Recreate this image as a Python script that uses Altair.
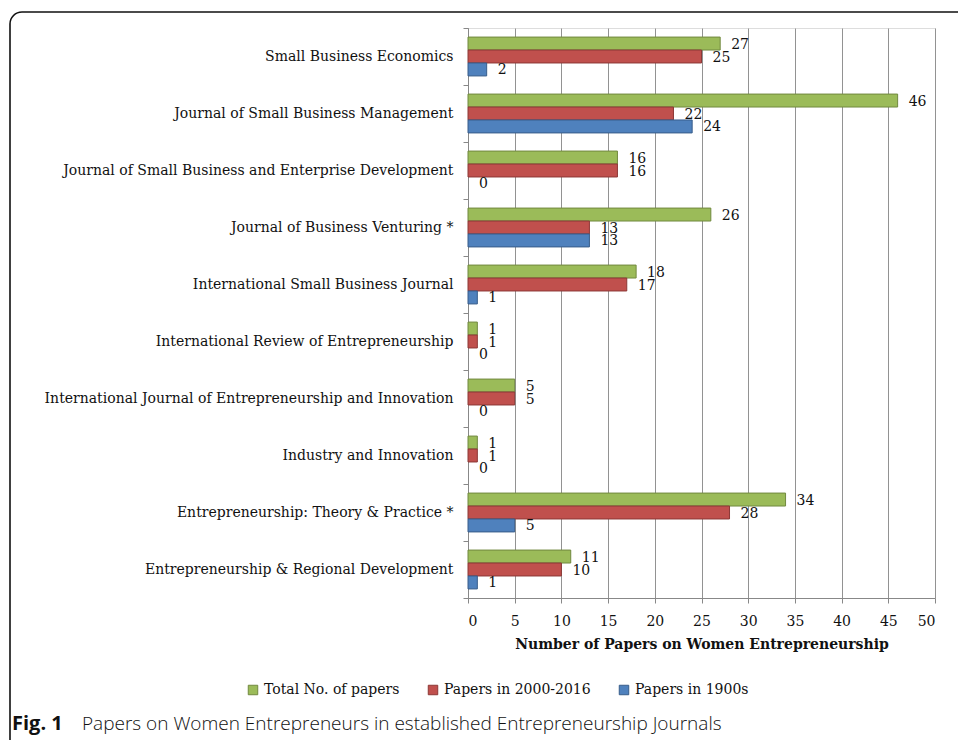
import altair as alt
import pandas as pd

journals = [
    "Small Business Economics",
    "Journal of Small Business Management",
    "Journal of Small Business and Enterprise Development",
    "Journal of Business Venturing *",
    "International Small Business Journal",
    "International Review of Entrepreneurship",
    "International Journal of Entrepreneurship and Innovation",
    "Industry and Innovation",
    "Entrepreneurship: Theory & Practice *",
    "Entrepreneurship & Regional Development",
]
series = ["Total No. of papers", "Papers in 2000-2016", "Papers in 1900s"]
total = [27, 46, 16, 26, 18, 1, 5, 1, 34, 11]
recent = [25, 22, 16, 13, 17, 1, 5, 1, 28, 10]
old = [2, 24, 0, 13, 1, 0, 0, 0, 5, 1]

fills = ["#9BBB59", "#C0504D", "#4F81BD"]
strokes = ["#71893F", "#8C3836", "#385D8A"]

rows = []
for j, t, r, o in zip(journals, total, recent, old):
    for s, v in zip(series, [t, r, o]):
        rows.append({"journal": j, "series": s, "value": v})
df = pd.DataFrame(rows)

SERIF = "DejaVu Serif"

y_enc = alt.Y("journal:N", sort=journals, title=None,
              scale=alt.Scale(paddingInner=0, paddingOuter=0),
              axis=alt.Axis(tickBand="extent", labelFont=SERIF, labelFontSize=14,
                            labelColor="#111", labelPadding=10, domainColor="#888",
                            tickColor="#888", tickSize=5, labelLimit=500))
x_enc = alt.X("value:Q", title="Number of Papers on Women Entrepreneurship",
              scale=alt.Scale(domain=[0, 50], nice=False),
              axis=alt.Axis(values=list(range(0, 51, 5)), grid=True, gridColor="#929292",
                            labelFont=SERIF, labelFontSize=14, labelColor="#111",
                            titleFont=SERIF, titleFontSize=14, titleFontWeight="bold",
                            titleColor="#111", titlePadding=9, labelPadding=11,
                            domainColor="#888", tickColor="#888", tickSize=5))
yoff = alt.YOffset("series:N", sort=series,
                   scale=alt.Scale(paddingInner=0, paddingOuter=0.7))

bars = alt.Chart(df).mark_bar(strokeWidth=1).encode(
    x=x_enc, y=y_enc, yOffset=yoff,
    fill=alt.Fill("series:N", sort=series, title=None,
                  scale=alt.Scale(domain=series, range=fills),
                  legend=alt.Legend(orient="none", legendX=-222, legendY=655,
                                    direction="horizontal", symbolType="square",
                                    symbolSize=90, symbolStrokeWidth=1,
                                    labelFont=SERIF, labelFontSize=14,
                                    labelColor="#111", columnPadding=26,
                                    labelOffset=4)),
    stroke=alt.Stroke("series:N", sort=series,
                      scale=alt.Scale(domain=series, range=strokes), legend=None),
    opacity=alt.condition("datum.value > 0", alt.value(1), alt.value(0)),
)

labels = alt.Chart(df).mark_text(align="left", baseline="middle", dx=11, dy=1,
                                 font=SERIF, fontSize=14, color="#111").encode(
    x="value:Q", y=alt.Y("journal:N", sort=journals), yOffset=yoff,
    text="value:Q",
)

frame = alt.Chart(pd.DataFrame({"a": [0]})).mark_rect(
    fill="transparent", stroke="#111", strokeWidth=1.6, cornerRadius=12
).encode(x=alt.value(-458), x2=alt.value(540), y=alt.value(-16), y2=alt.value(760))

fig = alt.Chart(pd.DataFrame({"a": [0]})).mark_text(
    align="left", baseline="alphabetic", font="Open Sans", fontSize=20,
    fontWeight="bold", color="#111").encode(
    x=alt.value(-456), y=alt.value(702), text=alt.value("Fig. 1"))
cap = alt.Chart(pd.DataFrame({"a": [0]})).mark_text(
    align="left", baseline="alphabetic", font="Open Sans", fontSize=19,
    fontWeight=300, color="#111").encode(
    x=alt.value(-386), y=alt.value(702),
    text=alt.value("Papers on Women Entrepreneurs in established Entrepreneurship Journals"))

chart = alt.layer(frame, bars, labels, fig, cap).properties(
    width=467, height=570,
    autosize=alt.AutoSizeParams(type="none"),
    padding={"left": 468, "top": 28, "right": 23, "bottom": 142},
).configure_view(fill="#E6E6E6", stroke=None).configure(background="white")

chart.save("out.html", embed_options={"renderer": "svg", "actions": False})
